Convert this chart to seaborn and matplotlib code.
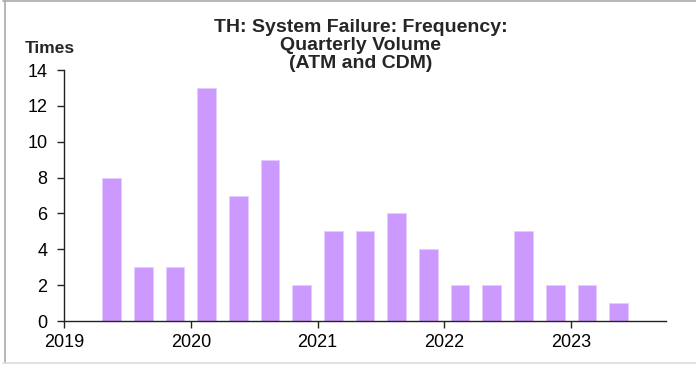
import matplotlib
matplotlib.use("Agg")
import matplotlib.pyplot as plt
from matplotlib.lines import Line2D
import seaborn as sns
import pandas as pd

# Quarterly system-failure counts (ATM and CDM), Q2 2019 - Q2 2023
quarters = ["2019Q2", "2019Q3", "2019Q4", "2020Q1", "2020Q2", "2020Q3", "2020Q4",
            "2021Q1", "2021Q2", "2021Q3", "2021Q4", "2022Q1", "2022Q2", "2022Q3",
            "2022Q4", "2023Q1", "2023Q2"]
failures = [8, 3, 3, 13, 7, 9, 2, 5, 5, 6, 4, 2, 2, 5, 2, 2, 1]
year_ticks = [2019, 2020, 2021, 2022, 2023]
y_ticks = [0, 2, 4, 6, 8, 10, 12, 14]

# place each quarter at its mid-point on a fractional-year axis
def quarter_mid(q):
    year, qn = int(q[:4]), int(q[-1])
    return year + (qn - 1) / 4 + 0.125

df = pd.DataFrame({"t": [quarter_mid(q) for q in quarters], "count": failures})

sns.set_theme(style="white")
plt.rcParams["font.family"] = ["Liberation Sans", "DejaVu Sans"]

fig = plt.figure(figsize=(6.96, 3.65), dpi=100)
ax = fig.add_axes([0.092, 0.1205, 0.865, 0.6875])

sns.barplot(data=df, x="t", y="count", native_scale=True, width=0.59,
            color="#CC99FF", saturation=1, edgecolor="#E6CCFF", linewidth=0.6, ax=ax)

ax.set_xlim(2019, 2023.75)
ax.set_ylim(0, 14)
ax.set_xticks(year_ticks)
ax.set_xticklabels([str(y) for y in year_ticks])
ax.set_yticks(y_ticks)
ax.set_xlabel("")
ax.set_ylabel("")

for side in ("top", "right"):
    ax.spines[side].set_visible(False)
for side in ("left", "bottom"):
    ax.spines[side].set_color("#222222")
    ax.spines[side].set_linewidth(1.0)

ax.tick_params(axis="both", which="major", direction="out", length=5, width=1,
               color="#222222", labelsize=13, labelcolor="black", left=True, bottom=True)
ax.tick_params(axis="y", pad=7)
ax.tick_params(axis="x", pad=4)

fig.text(0.518, 0.947, "TH: System Failure: Frequency:\nQuarterly Volume\n(ATM and CDM)",
         ha="center", va="top", fontsize=14, fontweight="bold", linespacing=1.07)
fig.text(0.036, 0.868, "Times", ha="left", va="center", fontsize=12.5, fontweight="bold")

# thin grey frame on top, left and bottom
frame = dict(color="#AAAAAA", linewidth=1.2, transform=fig.transFigure)
fig.add_artist(Line2D([0.005, 1.0], [0.996, 0.996], **frame))
fig.add_artist(Line2D([0.0065, 0.0065], [0.005, 0.996], **frame))
fig.add_artist(Line2D([0.005, 1.0], [0.006, 0.006], color="#DDDDDD", linewidth=1.2,
                      transform=fig.transFigure))

fig.savefig("out.png", dpi=100)
